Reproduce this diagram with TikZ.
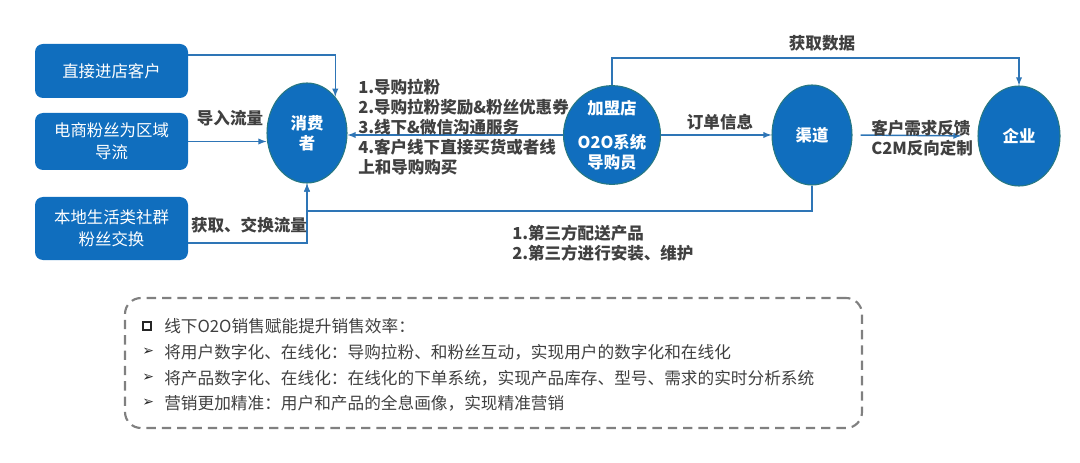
\documentclass[tikz,border=0pt]{standalone}
\usepackage{fontspec}
\setmainfont{Noto Sans CJK SC}
\newfontfamily\symb{DejaVu Sans}
\usetikzlibrary{shapes.geometric}
\definecolor{bleu}{RGB}{16,110,190}
\definecolor{trait}{RGB}{46,117,182}
\definecolor{gris}{RGB}{64,64,64}
\definecolor{contour}{RGB}{40,120,130}
\definecolor{tirets}{RGB}{128,128,128}
\begin{document}
\begin{tikzpicture}[x=0.75pt,y=-0.75pt]
			\tikzstyle{fleche}=[->,>=latex,line width=1.1pt,trait]
			\tikzstyle{boite}=[rectangle,rounded corners=6pt,fill=bleu,text=white,minimum width=114.75pt,align=center,font=\fontsize{12.3}{16.5}\selectfont]
			\tikzstyle{rond}=[ellipse,fill=bleu,draw=contour,line width=0.8pt,text=white,inner sep=0pt,minimum width=60pt,minimum height=75pt,align=center,font=\bfseries\fontsize{12.3}{15}\selectfont]
			\tikzstyle{etiquette}=[text=gris,align=left,inner sep=0pt,font=\bfseries\fontsize{12.4}{15}\selectfont]
			\tikzstyle{ligne}=[text=gris,anchor=west,inner sep=0pt,font=\fontsize{12.5}{15}\selectfont]
			\def\Puce{\textcolor{black!85}{\symb\fontsize{10.5}{12}\selectfont ➢}}
			\def\Carre{\textcolor{black!85}{\fboxsep=0pt\fboxrule=1.6pt\fbox{\rule{0pt}{4.3pt}\hspace{4.3pt}}}}
			\useasboundingbox (0,0) rectangle (1080,463);
			% noeuds
			\node[boite,minimum height=40.5pt] (B1) at (111.5,71) {直接进店客户};
			\node[boite,minimum height=42.75pt] (B2) at (111.5,141.5) {电商粉丝为区域\\导流};
			\node[boite,minimum height=47.25pt] (B3) at (111.5,228.5) {本地生活类社群\\粉丝交换};
			\node[rond] (Conso) at (307,133) {消费\\者};
			\node[rond,minimum height=72pt] (Franch) at (612,135) {加盟店\\[10.5pt]O2O系统\\导购员};
			\node[rond] (Canal) at (812,135) {渠道};
			\node[rond,minimum width=61.5pt] (Ent) at (1019,136) {企业};
			\coordinate (K1) at (335,55);
			\coordinate (K3) at (307,243);
			\coordinate (K4) at (307,211);
			\coordinate (K5) at (612,58);
			% fleches
			\draw[fleche] (B1.east |- K1) -- (K1 -| Conso.52) -- (Conso.52);
			\draw[fleche] (B2.east) -- (B2.east -| Conso.west);
			\draw[fleche] (B3.east |- K3) -- (K3) -- (Conso.south);
			\draw[fleche] (Canal.south) |- (K4) -- (Conso.south);
			\draw[fleche] (Franch.west) -- (Franch.west -| Conso.east);
			\draw[fleche] (Franch.east) -- (Canal.west);
			\draw[fleche,shorten <=6pt,shorten >=12pt] (Canal.east) -- (Ent.west);
			\draw[fleche] (Franch.north) -- (Franch.north |- K5) -| (Ent.north);
			% etiquettes
			\node[etiquette] (L1) at (230,118) {导入流量};
			\node[etiquette] (L2) at (249,225) {获取、交换流量};
			\node[etiquette,anchor=north west] (L3) at (358,79) {1.导购拉粉\\2.导购拉粉奖励\&粉丝优惠券\\3.线下\&微信沟通服务\\4.客户线下直接买货或者线\\上和导购购买};
			\node[etiquette] (L4) at (720,122) {订单信息};
			\node[etiquette] (L5) at (822,43) {获取数据};
			\node[etiquette,anchor=west] (L6) at (871,138) {客户需求反馈\\C2M反向定制};
			\node[etiquette,anchor=west] (L7) at (512,243) {1.第三方配送产品\\2.第三方进行安装、维护};
			% cadre du bas
			\node[draw=tirets,line width=1.6pt,dash pattern=on 7pt off 4.5pt,rounded corners=12pt,minimum width=552.75pt,minimum height=97.5pt] (Cadre) at (493.5,363) {};
			\node[ligne] (P0) at (142,326) {\Carre};
			\node[ligne] (T0) at (164,326) {线下O2O销售赋能提升销售效率：};
			\node[ligne] (P1) at (142,352) {\Puce};
			\node[ligne] (T1) at (164,352) {将用户数字化、在线化：导购拉粉、和粉丝互动，实现用户的数字化和在线化};
			\node[ligne] (P2) at (142,378) {\Puce};
			\node[ligne] (T2) at (164,378) {将产品数字化、在线化：在线化的下单系统，实现产品库存、型号、需求的实时分析系统};
			\node[ligne] (P3) at (142,403) {\Puce};
			\node[ligne] (T3) at (164,403) {营销更加精准：用户和产品的全息画像，实现精准营销};
		\end{tikzpicture}
\end{document}
